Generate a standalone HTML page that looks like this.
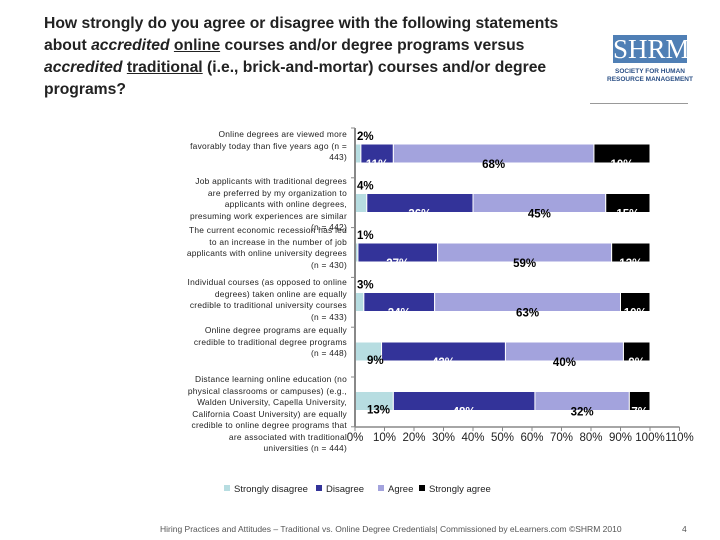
<!DOCTYPE html>
<html><head><meta charset="utf-8"><style>
body{margin:0;width:720px;height:540px;background:#fff;position:relative;overflow:hidden;font-family:"Liberation Sans",sans-serif}
#title{position:absolute;left:44px;top:13px;width:560px;font-size:15.7px;font-weight:bold;line-height:22px;color:#222;white-space:nowrap}
.cat{position:absolute;right:373px;width:200px;text-align:right;font-size:8.4px;line-height:11.5px;color:#222;letter-spacing:0.25px;white-space:nowrap}
</style></head><body>
<div id="title">How strongly do you agree or disagree with the following statements<br>about <i>accredited</i> <u>online</u> courses and/or degree programs versus<br><i>accredited</i> <u>traditional</u> (i.e., brick-and-mortar) courses and/or degree<br>programs?</div>
<div style="position:absolute;left:613px;top:35px;width:74px;height:28px;background:#4f7fb5;color:#fff;font-family:'Liberation Serif',serif;font-size:27px;line-height:28px;text-align:center">SHRM</div>
<div style="position:absolute;left:606px;top:68px;width:88px;font-size:6.5px;line-height:7.5px;color:#2a4f85;text-align:center;font-weight:bold">SOCIETY FOR HUMAN<br>RESOURCE MANAGEMENT</div>
<div style="position:absolute;left:590px;top:103px;width:98px;height:1px;background:#999"></div>
<div class="cat" style="top:129px">Online degrees are viewed more<br>favorably today than five years ago (n =<br>443)</div>
<div class="cat" style="top:176px">Job applicants with traditional degrees<br>are preferred by my organization to<br>applicants with online degrees,<br>presuming work experiences are similar<br>(n = 442)</div>
<div class="cat" style="top:225px">The current economic recession has led<br>to an increase in the number of job<br>applicants with online university degrees<br>(n = 430)</div>
<div class="cat" style="top:277px">Individual courses (as opposed to online<br>degrees) taken online are equally<br>credible to traditional university courses<br>(n = 433)</div>
<div class="cat" style="top:325px">Online degree programs are equally<br>credible to traditional degree programs<br>(n = 448)</div>
<div class="cat" style="top:374px">Distance learning online education (no<br>physical classrooms or campuses) (e.g.,<br>Walden University, Capella University,<br>California Coast University) are equally<br>credible to online degree programs that<br>are associated with traditional<br>universities (n = 444)</div>
<svg id="chart" width="720" height="540" style="position:absolute;left:0;top:0"></svg>
<div style="position:absolute;left:160px;top:524px;font-size:8.5px;color:#555">Hiring Practices and Attitudes – Traditional vs. Online Degree Credentials| Commissioned by eLearners.com ©SHRM 2010</div>
<div style="position:absolute;left:682px;top:524px;font-size:8.5px;color:#555">4</div>
<script>
const categories=["r1","r2","r3","r4","r5","r6"];
const stronglyDisagree=[2,4,1,3,9,13];
const disagree=[11,36,27,24,42,48];
const agree=[68,45,59,63,40,32];
const stronglyAgree=[10,15,13,10,9,7];
const ticks=[0,10,20,30,40,50,60,70,80,90,100,110];
const seriesNames=["Strongly disagree","Disagree","Agree","Strongly agree"];
const colors=["#b7dde1","#333399","#a3a3dd","#000000"];
const textCols=["#000","#fff","#000","#fff"];
const svg=document.getElementById('chart');const NS='http://www.w3.org/2000/svg';
const x0=355,x100=650;const X=v=>x0+(x100-x0)*v/100;
const rowTop=i=>144+i*49.5;const bh=19;
function mk(t,a){const e=document.createElementNS(NS,t);for(const k in a)e.setAttribute(k,a[k]);svg.appendChild(e);return e;}
const defs=mk('defs',{});const cp=document.createElementNS(NS,'clipPath');cp.setAttribute('id','cp');defs.appendChild(cp);
const cr=document.createElementNS(NS,'rect');cr.setAttribute('x',x0);cr.setAttribute('y',0);cr.setAttribute('width',x100-x0);cr.setAttribute('height',540);cp.appendChild(cr);
const g=mk('g',{'clip-path':'url(#cp)'});
const series=[stronglyDisagree,disagree,agree,stronglyAgree];
categories.forEach((c,i)=>{let acc=0;const y=rowTop(i);
series.forEach((s,j)=>{const v=s[i];const x=X(acc);let w=X(acc+v)-x;if(j==3)w=x100-x;
const r=document.createElementNS(NS,'rect');r.setAttribute('x',x);r.setAttribute('y',y);r.setAttribute('width',w);r.setAttribute('height',bh);r.setAttribute('fill',colors[j]);r.setAttribute('stroke','#fff');r.setAttribute('stroke-width','1');


g.appendChild(r);
const t=document.createElementNS(NS,'text');
let tx,ty,fill=textCols[j];
if(j==0){tx=x0+2;ty=(i<4)?y-4:y+bh+3;fill='#000';t.setAttribute('text-anchor','start');if(i>=4)tx=x0+12;}
else{tx=x+ (j==3?(x100-x)/2:w/2);ty=y+bh+5;t.setAttribute('text-anchor','middle');}
t.setAttribute('x',tx);t.setAttribute('y',ty);t.setAttribute('fill',fill);t.setAttribute('font-size','11.5');t.setAttribute('font-weight','bold');t.setAttribute('font-family','Liberation Sans, sans-serif');
t.textContent=v+'%';


(j==0?svg:g).appendChild(t);
acc+=v;});});
const ax=mk('line',{x1:x0,y1:128,x2:x0,y2:427,stroke:'#888','stroke-width':2});

mk('line',{x1:x0,y1:427,x2:X(110),y2:427,stroke:'#888','stroke-width':1.5});
for(let i=0;i<=6;i++)mk('line',{x1:x0-4,y1:128+i*49.8,x2:x0,y2:128+i*49.8,stroke:'#888'});
ticks.forEach(t=>{mk('line',{x1:X(t),y1:427,x2:X(t),y2:431,stroke:'#888'});
const e=mk('text',{x:X(t),y:441,'text-anchor':'middle','font-size':'11.5','fill':'#222','font-family':'Liberation Sans, sans-serif'});e.textContent=t+'%';

});
const lx=[224,316,378,419];
seriesNames.forEach((n,j)=>{mk('rect',{x:lx[j],y:485,width:6,height:6,fill:colors[j]});
const e=mk('text',{x:lx[j]+10,y:492,'font-size':'9.5','fill':'#222','font-family':'Liberation Sans, sans-serif'});e.textContent=n;

});
</script>
</body></html>
